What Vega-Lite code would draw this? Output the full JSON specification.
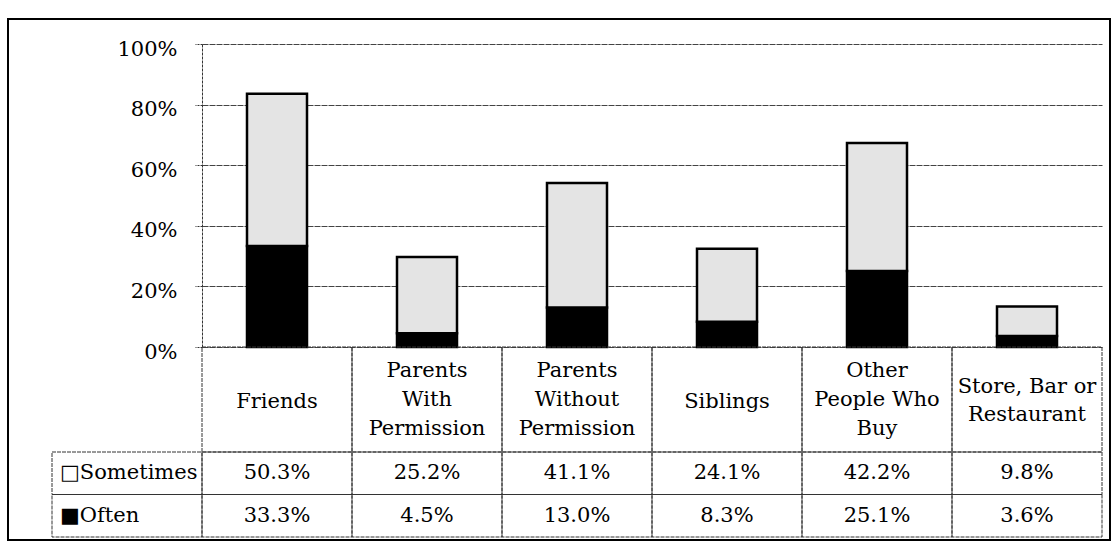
{
  "$schema": "https://vega.github.io/schema/vega-lite/v6.json",
  "width": 1102,
  "height": 521,
  "autosize": {"type": "none"},
  "padding": {"left": 8, "top": 19, "right": 5, "bottom": 4},
  "background": "white",
  "config": {"view": {"stroke": "#000000", "strokeWidth": 2}, "font": "DejaVu Serif"},
  "datasets": {
    "bars": [
      {"cat": "Friends", "series": "Often", "ord": 0, "value": 33.3},
      {"cat": "Friends", "series": "Sometimes", "ord": 1, "value": 50.3},
      {"cat": "Parents With Permission", "series": "Often", "ord": 0, "value": 4.5},
      {"cat": "Parents With Permission", "series": "Sometimes", "ord": 1, "value": 25.2},
      {"cat": "Parents Without Permission", "series": "Often", "ord": 0, "value": 13.0},
      {"cat": "Parents Without Permission", "series": "Sometimes", "ord": 1, "value": 41.1},
      {"cat": "Siblings", "series": "Often", "ord": 0, "value": 8.3},
      {"cat": "Siblings", "series": "Sometimes", "ord": 1, "value": 24.1},
      {"cat": "Other People Who Buy", "series": "Often", "ord": 0, "value": 25.1},
      {"cat": "Other People Who Buy", "series": "Sometimes", "ord": 1, "value": 42.2},
      {"cat": "Store, Bar or Restaurant", "series": "Often", "ord": 0, "value": 3.6},
      {"cat": "Store, Bar or Restaurant", "series": "Sometimes", "ord": 1, "value": 9.8}
    ],
    "header": [
      {"cat": "Friends", "row": "header", "label": "Friends"},
      {"cat": "Parents With Permission", "row": "header", "label": "Parents\nWith\nPermission"},
      {"cat": "Parents Without Permission", "row": "header", "label": "Parents\nWithout\nPermission"},
      {"cat": "Siblings", "row": "header", "label": "Siblings"},
      {"cat": "Other People Who Buy", "row": "header", "label": "Other\nPeople Who\nBuy"},
      {"cat": "Store, Bar or Restaurant", "row": "header", "label": "Store, Bar or\nRestaurant"}
    ],
    "cells": [
      {"col": "_legend", "row": "Sometimes", "text": "□Sometimes"},
      {"col": "_legend", "row": "Often", "text": "■Often"},
      {"col": "Friends", "row": "Sometimes", "text": "50.3%"},
      {"col": "Friends", "row": "Often", "text": "33.3%"},
      {"col": "Parents With Permission", "row": "Sometimes", "text": "25.2%"},
      {"col": "Parents With Permission", "row": "Often", "text": "4.5%"},
      {"col": "Parents Without Permission", "row": "Sometimes", "text": "41.1%"},
      {"col": "Parents Without Permission", "row": "Often", "text": "13.0%"},
      {"col": "Siblings", "row": "Sometimes", "text": "24.1%"},
      {"col": "Siblings", "row": "Often", "text": "8.3%"},
      {"col": "Other People Who Buy", "row": "Sometimes", "text": "42.2%"},
      {"col": "Other People Who Buy", "row": "Often", "text": "25.1%"},
      {"col": "Store, Bar or Restaurant", "row": "Sometimes", "text": "9.8%"},
      {"col": "Store, Bar or Restaurant", "row": "Often", "text": "3.6%"}
    ]
  },
  "layer": [
    {
      "data": {"name": "bars"},
      "mark": {"type": "bar", "stroke": "#000000", "strokeWidth": 2.5},
      "encoding": {
        "x": {
          "field": "cat", "type": "nominal", "sort": null,
          "scale": {
            "domain": ["Friends", "Parents With Permission", "Parents Without Permission", "Siblings", "Other People Who Buy", "Store, Bar or Restaurant"],
            "range": [194, 1094], "paddingInner": 0.6, "paddingOuter": 0.3
          },
          "axis": null
        },
        "y": {
          "field": "value", "type": "quantitative", "stack": "zero",
          "scale": {"domain": [0, 100], "range": [328, 25], "nice": false},
          "axis": {
            "values": [0, 20, 40, 60, 80, 100],
            "labelExpr": "datum.value + '%'",
            "title": null,
            "offset": -194,
            "grid": true,
            "gridColor": "#444444",
            "gridDash": [6, 1],
            "gridWidth": 1,
            "domainColor": "#333333",
            "domainDash": [3, 1],
            "tickColor": "#333333",
            "tickDash": [2, 1],
            "tickSize": 7,
            "labelPadding": 18,
            "labelFont": "DejaVu Serif",
            "labelFontSize": 21,
            "labelColor": "#000000",
            "labelOffset": 5
          }
        },
        "color": {
          "field": "series", "type": "nominal",
          "scale": {"domain": ["Often", "Sometimes"], "range": ["#000000", "#e4e4e4"]},
          "legend": null
        },
        "order": {"field": "ord", "type": "quantitative"}
      }
    },
    {
      "data": {"name": "header"},
      "encoding": {
        "x": {
          "field": "cat", "type": "nominal", "sort": null,
          "scale": {
            "domain": ["_legend", "Friends", "Parents With Permission", "Parents Without Permission", "Siblings", "Other People Who Buy", "Store, Bar or Restaurant"],
            "range": [44, 1094], "paddingInner": 0, "paddingOuter": 0
          },
          "axis": null
        },
        "y": {
          "field": "row", "type": "nominal",
          "scale": {"domain": ["header"], "range": [328, 433], "paddingInner": 0, "paddingOuter": 0},
          "axis": null
        }
      },
      "layer": [
        {"mark": {"type": "rect", "fill": "transparent", "stroke": "#333333", "strokeWidth": 1, "strokeDash": [4, 1]}},
        {
          "transform": [{"filter": "indexof(datum.label, '\\n') < 0"}],
          "mark": {"type": "text", "font": "DejaVu Serif", "fontSize": 21, "baseline": "middle", "align": "center", "color": "#000000", "dy": 2},
          "encoding": {"text": {"field": "label", "type": "nominal"}}
        },
        {
          "transform": [{"filter": "indexof(datum.label, '\\n') >= 0 && !test(/\\n[^\\n]*\\n/, datum.label)"}],
          "mark": {"type": "text", "font": "DejaVu Serif", "fontSize": 21, "lineBreak": "\n", "lineHeight": 28, "baseline": "middle", "align": "center", "color": "#000000", "dy": -13},
          "encoding": {"text": {"field": "label", "type": "nominal"}}
        },
        {
          "transform": [{"filter": "test(/\\n[^\\n]*\\n/, datum.label)"}],
          "mark": {"type": "text", "font": "DejaVu Serif", "fontSize": 21, "lineBreak": "\n", "lineHeight": 29, "baseline": "middle", "align": "center", "color": "#000000", "dy": -29},
          "encoding": {"text": {"field": "label", "type": "nominal"}}
        }
      ]
    },
    {
      "data": {"name": "cells"},
      "encoding": {
        "x": {
          "field": "col", "type": "nominal", "sort": null,
          "scale": {
            "domain": ["_legend", "Friends", "Parents With Permission", "Parents Without Permission", "Siblings", "Other People Who Buy", "Store, Bar or Restaurant"],
            "range": [44, 1094], "paddingInner": 0, "paddingOuter": 0
          },
          "axis": null
        },
        "y": {
          "field": "row", "type": "nominal",
          "scale": {"domain": ["Sometimes", "Often"], "range": [433, 518], "paddingInner": 0, "paddingOuter": 0},
          "axis": null
        }
      },
      "layer": [
        {"mark": {"type": "rect", "fill": "transparent", "stroke": "#333333", "strokeWidth": 1, "strokeDash": [4, 1]}},
        {
          "transform": [{"filter": "datum.col !== '_legend'"}],
          "mark": {"type": "text", "font": "DejaVu Serif", "fontSize": 21, "baseline": "middle", "align": "center", "color": "#000000"},
          "encoding": {"text": {"field": "text", "type": "nominal"}}
        },
        {
          "transform": [{"filter": "datum.col === '_legend'"}],
          "mark": {"type": "text", "font": "DejaVu Serif", "fontSize": 21, "baseline": "middle", "align": "left", "dx": -67, "color": "#000000"},
          "encoding": {"text": {"field": "text", "type": "nominal"}}
        }
      ]
    }
  ],
  "resolve": {"scale": {"x": "independent", "y": "independent"}}
}
